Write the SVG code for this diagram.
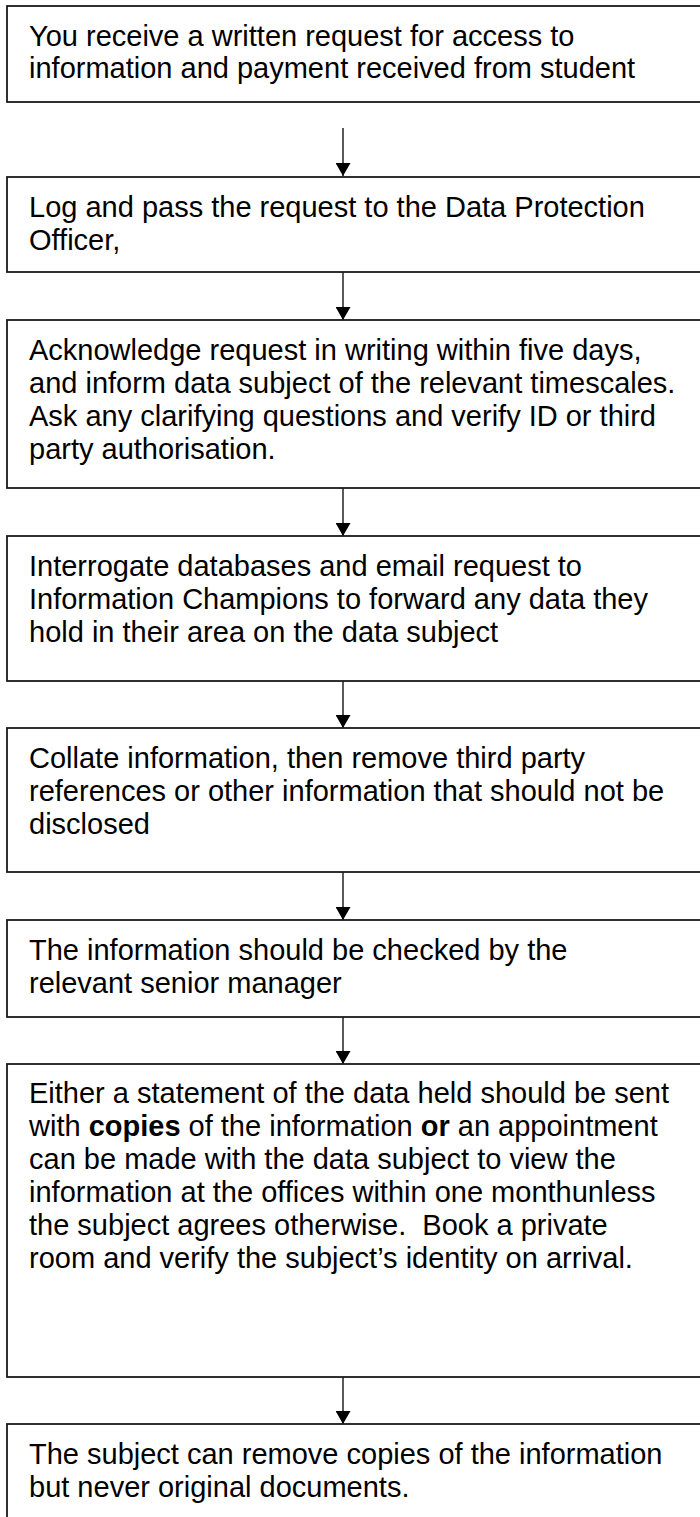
<svg xmlns="http://www.w3.org/2000/svg" width="700" height="1517" viewBox="0 0 700 1517">
<defs>
<style>
.box{fill:#fff;stroke:#1a1a1a;stroke-width:1.8}
.t{font-family:"Liberation Sans",Arial,sans-serif;font-size:29px;fill:#000}
.b{font-weight:bold}
.c{stroke:#000;stroke-width:1.3;fill:none}
</style>
<marker id="ah" markerWidth="15" markerHeight="13" refX="7.5" refY="13" orient="0" markerUnits="userSpaceOnUse">
<path d="M0,0 L15,0 L7.5,13 Z" fill="#000"/>
</marker>
</defs>
<rect width="700" height="1517" fill="#fff"/>
<g id="connectors">
<line class="c" x1="343" y1="128" x2="343" y2="176" marker-end="url(#ah)"/>
<line class="c" x1="343" y1="272" x2="343" y2="320" marker-end="url(#ah)"/>
<line class="c" x1="343" y1="488" x2="343" y2="536" marker-end="url(#ah)"/>
<line class="c" x1="343" y1="681" x2="343" y2="728" marker-end="url(#ah)"/>
<line class="c" x1="343" y1="872" x2="343" y2="920" marker-end="url(#ah)"/>
<line class="c" x1="343" y1="1017" x2="343" y2="1064" marker-end="url(#ah)"/>
<line class="c" x1="343" y1="1377" x2="343" y2="1424" marker-end="url(#ah)"/>
</g>
<g id="n1">
<rect class="box" x="7" y="6" width="710" height="96"/>
<text class="t" x="29" y="46">You receive a written request for access to</text>
<text class="t" x="29" y="78">information and payment received from student</text>
</g>
<g id="n2">
<rect class="box" x="7" y="177" width="710" height="95"/>
<text class="t" x="29" y="217">Log and pass the request to the Data Protection</text>
<text class="t" x="29" y="250">Officer,</text>
</g>
<g id="n3">
<rect class="box" x="7" y="320" width="710" height="168"/>
<text class="t" x="29" y="360">Acknowledge request in writing within five days,</text>
<text class="t" x="29" y="393">and inform data subject of the relevant timescales.</text>
<text class="t" x="29" y="426">Ask any clarifying questions and verify ID or third</text>
<text class="t" x="29" y="459">party authorisation.</text>
</g>
<g id="n4">
<rect class="box" x="7" y="536" width="710" height="145"/>
<text class="t" x="29" y="576">Interrogate databases and email request to</text>
<text class="t" x="29" y="609">Information Champions to forward any data they</text>
<text class="t" x="29" y="642">hold in their area on the data subject</text>
</g>
<g id="n5">
<rect class="box" x="7" y="728" width="710" height="144"/>
<text class="t" x="29" y="768">Collate information, then remove third party</text>
<text class="t" x="29" y="801">references or other information that should not be</text>
<text class="t" x="29" y="834">disclosed</text>
</g>
<g id="n6">
<rect class="box" x="7" y="920" width="710" height="97"/>
<text class="t" x="29" y="960">The information should be checked by the</text>
<text class="t" x="29" y="993">relevant senior manager</text>
</g>
<g id="n7">
<rect class="box" x="7" y="1064" width="710" height="313"/>
<text class="t" x="29" y="1103">Either a statement of the data held should be sent</text>
<text class="t" x="29" y="1136">with <tspan class="b">copies</tspan> of the information <tspan class="b">or</tspan> an appointment</text>
<text class="t" x="29" y="1169">can be made with the data subject to view the</text>
<text class="t" x="29" y="1202">information at the offices within one monthunless</text>
<text class="t" x="29" y="1235">the subject agrees otherwise.&#160; Book a private</text>
<text class="t" x="29" y="1268">room and verify the subject’s identity on arrival.</text>
</g>
<g id="n8">
<rect class="box" x="7" y="1424" width="710" height="120"/>
<text class="t" x="29" y="1464">The subject can remove copies of the information</text>
<text class="t" x="29" y="1497">but never original documents.</text>
</g>
</svg>
